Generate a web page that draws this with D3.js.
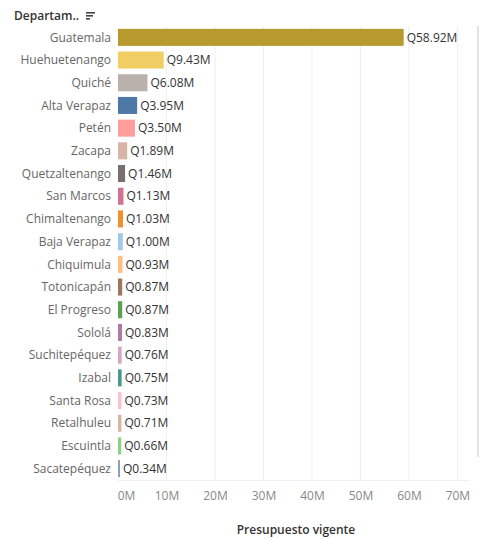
<!DOCTYPE html>
<html><head><meta charset="utf-8">
<script src="https://cdn.jsdelivr.net/npm/d3@7"></script>
<style>body{margin:0;background:#fff;}svg{display:block;font-family:"Open Sans",sans-serif;}</style>
</head><body><svg id="c" width="481" height="540"></svg>
<script>
const departamentos = ["Guatemala","Huehuetenango","Quiché","Alta Verapaz","Petén","Zacapa","Quetzaltenango","San Marcos","Chimaltenango","Baja Verapaz","Chiquimula","Totonicapán","El Progreso","Sololá","Suchitepéquez","Izabal","Santa Rosa","Retalhuleu","Escuintla","Sacatepéquez"];
const presupuesto = [58.92,9.43,6.08,3.95,3.50,1.89,1.46,1.13,1.03,1.00,0.93,0.87,0.87,0.83,0.76,0.75,0.73,0.71,0.66,0.34];
const colores = ["#b8992e","#f1ce63","#bab0ac","#4e79a7","#ff9d9a","#d7b5a6","#79706e","#d37295","#f28e2b","#a0cbe8","#ffbe7d","#9d7660","#59a14f","#b07aa1","#d4a6c8","#499894","#fabfd2","#d7b5a6","#8cd17d","#86a0bd"];
const ticks = [0,10,20,30,40,50,60,70];
const headerLabel = "Departam..";
const axisTitle = "Presupuesto vigente";

(function(){
const svg = d3.select("#c");
const mLeft = 118, mRight = 470, mTop = 26, mBottom = 480;
const x = d3.scaleLinear().domain([0, 72.6]).range([mLeft, mRight]);
const y = d3.scaleBand().domain(departamentos).range([mTop, mBottom]).paddingInner(0.25).paddingOuter(0.125);

svg.append("g").selectAll("line").data(ticks.slice(1)).join("line")
  .attr("x1", d => x(d)).attr("x2", d => x(d)).attr("y1", mTop).attr("y2", mBottom)
  .attr("stroke", "#efefef").attr("stroke-width", 1);
svg.append("line").attr("x1", mLeft).attr("x2", mRight).attr("y1", mBottom+0.5).attr("y2", mBottom+0.5).attr("stroke","#eeeeee");

svg.append("rect").attr("x", 477).attr("y", 26).attr("width", 2).attr("height", 431).attr("fill", "#e2e2e2");

const rows = departamentos.map((d,i) => ({name:d, v:presupuesto[i], c:colores[i]}));

svg.append("g").selectAll("rect").data(rows).join("rect")
  .attr("x", x(0)).attr("y", d => y(d.name)).attr("width", d => Math.max(2, x(d.v)-x(0)))
  .attr("height", y.bandwidth()).attr("fill", d => d.c);

svg.append("g").selectAll("text").data(rows).join("text")
  .attr("x", 111).attr("y", d => y(d.name) + y.bandwidth()/2).attr("dy", "0.35em")
  .attr("text-anchor", "end").attr("font-size", 12).attr("fill", "#666").text(d => d.name);

svg.append("g").selectAll("text").data(rows).join("text")
  .attr("x", d => Math.max(x(0)+2, x(d.v)) + 3).attr("y", d => y(d.name) + y.bandwidth()/2).attr("dy", "0.35em")
  .attr("font-size", 12).attr("fill", "#333").text(d => "Q" + d.v.toFixed(2) + "M");

const xa = svg.append("g").attr("transform", `translate(0,${mBottom})`)
  .call(d3.axisBottom(x).tickValues(ticks).tickFormat(d => d + "M").tickSize(0).tickPadding(11));
xa.select(".domain").remove();
xa.selectAll("text").attr("font-size", 12).attr("fill", "#888").attr("font-family", "'Open Sans',sans-serif")
  .attr("dx", d => d === 0 ? "8" : "0");

svg.append("text").attr("x", 296).attr("y", 534).attr("text-anchor", "middle")
  .attr("font-size", 12).attr("font-weight", 600).attr("fill", "#333").text(axisTitle);

svg.append("text").attr("x", 14).attr("y", 20).attr("font-size", 12).attr("font-weight", 600).attr("fill", "#333").text(headerLabel);
const icon = svg.append("g").attr("transform", "translate(86,12)");
[[0,9],[3,7],[6,4]].forEach(([yy,w]) => icon.append("rect").attr("x",0).attr("y",yy).attr("width",w).attr("height",1.6).attr("fill","#444"));
})();
</script></body></html>
